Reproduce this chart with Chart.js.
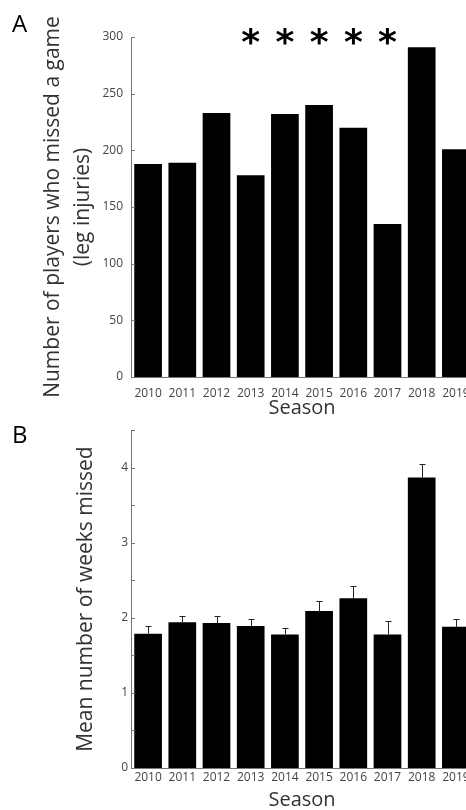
<!DOCTYPE html>
<html>
<head>
<meta charset="utf-8">
<script src="https://cdn.jsdelivr.net/npm/chart.js@4/dist/chart.umd.min.js"></script>
<style>
  html, body { margin: 0; padding: 0; background: #fff; overflow: hidden; }
  #page { position: relative; width: 466px; height: 810px; overflow: hidden; }
  .panel { position: absolute; left: 0; width: 480px; }
  #panelA { top: 0; height: 420px; }
  #panelB { top: 420px; height: 390px; }
</style>
</head>
<body>
<div id="page">
  <div class="panel" id="panelA"><canvas id="chartA"></canvas></div>
  <div class="panel" id="panelB"><canvas id="chartB"></canvas></div>
</div>
<script>
// Seasons shown on both panels
const seasons = ['2010', '2011', '2012', '2013', '2014', '2015', '2016', '2017', '2018', '2019'];

// Panel A: players who missed a game with a leg injury
const playersMissed = [188, 189, 233, 178, 232, 240, 220, 135, 291, 201];
// Seasons flagged as significant
const flaggedSeasons = ['2013', '2014', '2015', '2016', '2017'];
const playersTicks = [0, 50, 100, 150, 200, 250, 300];

// Panel B: mean weeks missed, with upper error bar end
const meanWeeks = [1.79, 1.94, 1.93, 1.89, 1.78, 2.09, 2.26, 1.78, 3.87, 1.88];
const meanWeeksUpper = [1.89, 2.03, 2.03, 1.99, 1.86, 2.22, 2.43, 1.96, 4.05, 1.99];

const TEXT = '#333333';
const TICK_TEXT = '#444444';
const AXIS = '#777777';
const FONT = "'Open Sans', 'Noto Sans', sans-serif";

// Short inward tick marks on the y axis, plus the panel letter
function axisDecor(letter, letterY) {
  return {
    id: 'axisDecor' + letter,
    afterDraw(chart) {
      const ctx = chart.ctx;
      const y = chart.scales.y;
      const x0 = chart.chartArea.left;
      ctx.save();
      ctx.strokeStyle = AXIS;
      ctx.lineWidth = 1;
      y.ticks.forEach((t) => {
        const py = Math.round(y.getPixelForValue(t.value)) + 0.5;
        ctx.beginPath();
        ctx.moveTo(x0, py);
        ctx.lineTo(x0 + 4, py);
        ctx.stroke();
      });
      ctx.fillStyle = '#000';
      ctx.font = "24px " + FONT;
      ctx.textAlign = 'left';
      ctx.textBaseline = 'alphabetic';
      ctx.fillText(letter, 12, letterY);
      ctx.restore();
    }
  };
}

// Significance stars above flagged seasons
const starsPlugin = {
  id: 'stars',
  afterDraw(chart) {
    const ctx = chart.ctx;
    const xs = chart.scales.x, ys = chart.scales.y;
    ctx.save();
    ctx.fillStyle = '#000';
    ctx.font = "bold 36px 'DejaVu Sans', sans-serif";
    ctx.textAlign = 'center';
    ctx.textBaseline = 'middle';
    flaggedSeasons.forEach((s) => {
      const px = xs.getPixelForValue(seasons.indexOf(s));
      const py = ys.getPixelForValue(ys.max);
      ctx.fillText('*', px, py + 8);
    });
    ctx.restore();
  }
};

// Upper error bars for panel B
const errorBarPlugin = {
  id: 'errorBars',
  afterDatasetsDraw(chart) {
    const ctx = chart.ctx;
    const ys = chart.scales.y;
    const meta = chart.getDatasetMeta(0);
    ctx.save();
    ctx.strokeStyle = '#222';
    ctx.lineWidth = 1;
    meta.data.forEach((bar, i) => {
      const px = Math.round(bar.x) + 0.5;
      const top = ys.getPixelForValue(meanWeeks[i]);
      const end = Math.round(ys.getPixelForValue(meanWeeksUpper[i])) + 0.5;
      ctx.beginPath();
      ctx.moveTo(px, top);
      ctx.lineTo(px, end);
      ctx.moveTo(px - 3, end);
      ctx.lineTo(px + 3, end);
      ctx.stroke();
    });
    ctx.restore();
  }
};

function makeChart(canvasId, cfg) {
  return new Chart(document.getElementById(canvasId), {
    type: 'bar',
    data: {
      labels: seasons,
      datasets: [{
        data: cfg.values,
        backgroundColor: '#000',
        borderWidth: 0,
        barPercentage: 0.81,
        categoryPercentage: 1.0
      }]
    },
    options: {
      responsive: true,
      maintainAspectRatio: false,
      animation: false,
      events: [],
      layout: { padding: { top: cfg.padTop, right: 7, left: 0, bottom: 0 } },
      plugins: { legend: { display: false }, tooltip: { enabled: false } },
      scales: {
        x: {
          grid: { display: false, drawTicks: false },
          border: { display: true, color: AXIS, width: 1 },
          ticks: { color: TICK_TEXT, font: { family: FONT, size: 12 }, padding: cfg.xTickPad, maxRotation: 0, autoSkip: false },
          title: {
            display: true, text: 'Season', color: TEXT,
            font: { family: FONT, size: 20, lineHeight: 1.0 },
            padding: { top: 0, bottom: cfg.xTitlePad }
          },
          afterFit(scale) { scale.height = cfg.xHeight; }
        },
        y: {
          min: cfg.min, max: cfg.max,
          grid: { display: false, drawTicks: false },
          border: { display: true, color: AXIS, width: 1 },
          ticks: {
            stepSize: cfg.step, color: TICK_TEXT, padding: cfg.yTickPad,
            font: { family: FONT, size: 12 },
            callback: cfg.tickCb
          },
          title: {
            display: true, text: cfg.yTitle, color: TEXT,
            font: { family: FONT, size: 21, lineHeight: cfg.yTitleLH },
            padding: { top: cfg.yTitlePad, bottom: 0 }
          },
          afterFit(scale) { scale.width = 131; }
        }
      }
    },
    plugins: cfg.plugins
  });
}

makeChart('chartA', {
  values: playersMissed,
  padTop: 37, xHeight: 43, xTickPad: 9, xTitlePad: 2,
  min: 0, max: 300, step: 50, yTickPad: 8,
  tickCb: (v) => (playersTicks.includes(v) ? String(v) : ''),
  yTitle: ['Number of players who missed a game', '(leg injuries)'],
  yTitleLH: 1.43, yTitlePad: 38,
  plugins: [axisDecor('A', 32), starsPlugin]
});

makeChart('chartB', {
  values: meanWeeks,
  padTop: 5, xHeight: 42, xTickPad: 2.5, xTitlePad: 0,
  min: 0, max: 4.5, step: 0.5, yTickPad: 3,
  tickCb: (v) => (Number.isInteger(v) ? String(v) : ''),
  yTitle: 'Mean number of weeks missed',
  yTitleLH: 1.43, yTitlePad: 71,
  plugins: [axisDecor('B', 23), errorBarPlugin]
});
</script>
</body>
</html>
